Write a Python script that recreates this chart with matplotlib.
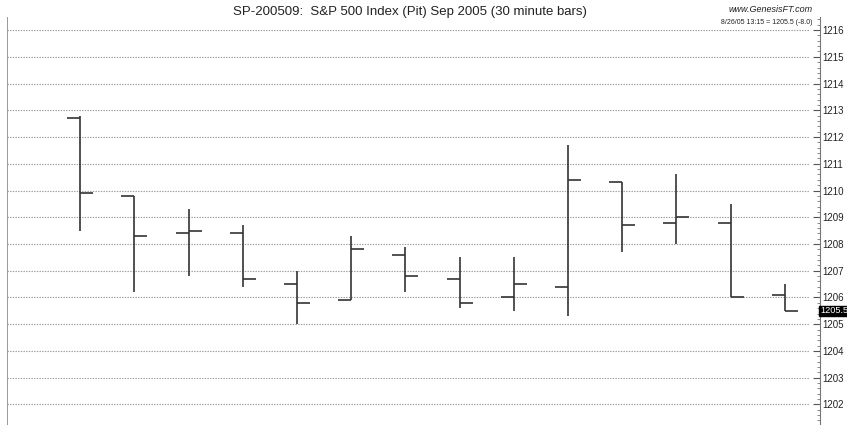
import matplotlib.pyplot as plt
from matplotlib.ticker import MultipleLocator

# 30 minute OHLC bars
opens = [1212.7, 1209.8, 1208.4, 1208.4, 1206.5, 1205.9, 1207.6, 1206.7, 1206.0, 1206.4, 1210.3, 1208.8, 1208.8, 1206.1]
highs = [1212.8, 1209.8, 1209.3, 1208.7, 1207.0, 1208.3, 1207.9, 1207.5, 1207.5, 1211.7, 1210.3, 1210.6, 1209.5, 1206.5]
lows = [1208.5, 1206.2, 1206.8, 1206.4, 1205.0, 1205.9, 1206.2, 1205.6, 1205.5, 1205.3, 1207.7, 1208.0, 1206.0, 1205.5]
closes = [1209.9, 1208.3, 1208.5, 1206.7, 1205.8, 1207.8, 1206.8, 1205.8, 1206.5, 1210.4, 1208.7, 1209.0, 1206.0, 1205.5]
last_price = 1205.5
title = 'SP-200509:  S&P 500 Index (Pit) Sep 2005 (30 minute bars)'
site = 'www.GenesisFT.com'
stamp = '8/26/05 13:15 = 1205.5 (-8.0)'

plt.rcParams['font.family'] = ['Liberation Sans', 'DejaVu Sans']

fig = plt.figure(figsize=(8.47, 4.25), dpi=100)
ax = fig.add_axes([7 / 847, 0, (820 - 7) / 847, (425 - 17) / 425])

bar_color = '#333333'
tick_w = 0.24
for i in range(len(opens)):
    ax.plot([i, i], [lows[i], highs[i]], color=bar_color, lw=1.2, solid_capstyle='butt')
    ax.plot([i - tick_w, i], [opens[i], opens[i]], color=bar_color, lw=1.2, solid_capstyle='butt')
    ax.plot([i, i + tick_w], [closes[i], closes[i]], color=bar_color, lw=1.2, solid_capstyle='butt')

ax.set_xlim(-1.35, 13.65)
ax.set_ylim(1201.23, 1216.49)

for y in range(1202, 1217):
    ax.plot([-1.35, 13.45], [y, y], color='#9a9a9a', lw=0.8, ls=(0, (1.2, 1.2)), zorder=0)

ax.yaxis.tick_right()
ax.yaxis.set_major_locator(MultipleLocator(1))
ax.yaxis.set_minor_locator(MultipleLocator(0.2))
ax.yaxis.set_major_formatter(lambda v, p: f'{v:.0f}')
ax.tick_params(axis='y', which='major', direction='in', length=5, width=0.8, color='#555555',
               labelsize=7, pad=1.5, labelcolor='#222222')
ax.tick_params(axis='y', which='minor', direction='in', length=2.5, width=0.6, color='#777777')
ax.tick_params(axis='x', bottom=False, labelbottom=False)

for s in ['top', 'bottom']:
    ax.spines[s].set_visible(False)
ax.spines['left'].set_color('#999999')
ax.spines['left'].set_linewidth(0.7)
ax.spines['right'].set_color('#777777')
ax.spines['right'].set_linewidth(0.8)

ax.text(1.0, last_price, f'{last_price:.1f}', transform=ax.get_yaxis_transform(),
        ha='left', va='center', fontsize=6.6, color='white',
        bbox=dict(boxstyle='square,pad=0.08', fc='black', ec='black'))

fig.text(410 / 847, 1 - 12 / 425, title, ha='center', va='center', fontsize=9.5, color='#222222')
fig.text(813 / 847, 1 - 10 / 425, site, ha='right', va='center', fontsize=6.5, style='italic', color='#222222')
fig.text(812 / 847, 1 - 22 / 425, stamp, ha='right', va='center', fontsize=5, color='#222222')

fig.savefig('out.png', dpi=100)
